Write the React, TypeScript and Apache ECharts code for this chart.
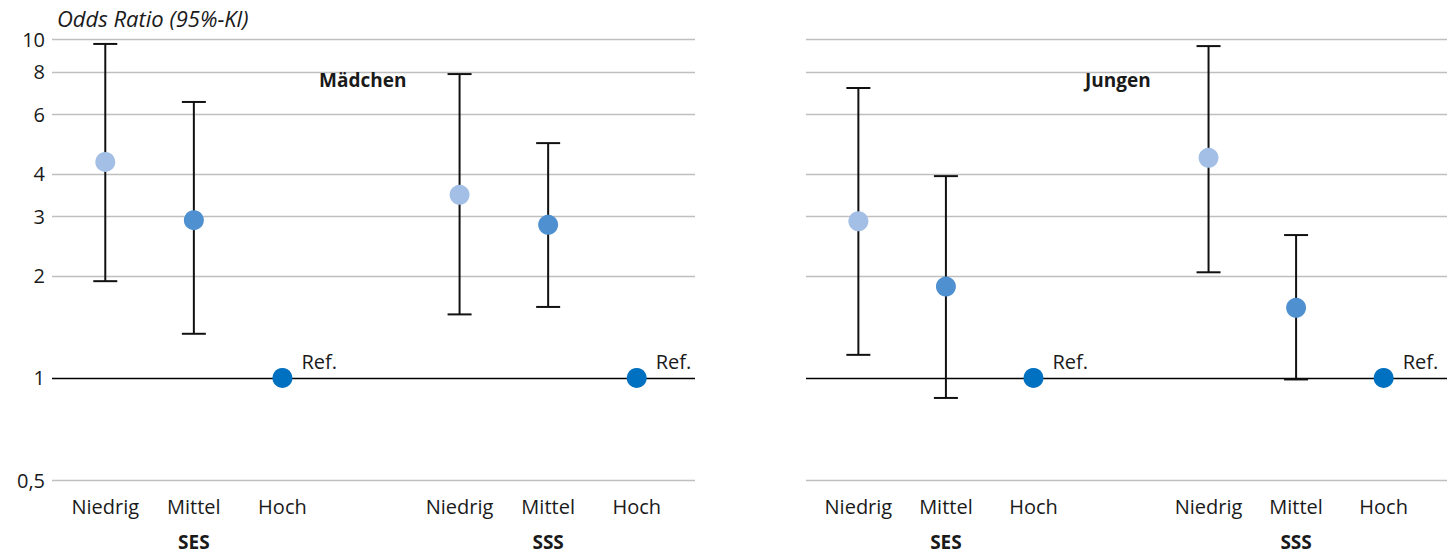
import React, { useEffect, useRef } from "react";
import * as echarts from "echarts";

const categories = ["Niedrig", "Mittel", "Hoch", "", "Niedrig", "Mittel", "Hoch"];
const groupLabels = ["", "SES", "", "", "", "SSS", ""];
const yTicks = [0.5, 1, 2, 3, 4, 6, 8, 10];
const levelColors = ["#a3bfe6", "#4f90d0", "#0070c0", "#000000", "#a3bfe6", "#4f90d0", "#0070c0"];
const refLabel = "Ref.";

const girlsOR = [4.34, 2.92, 1, null, 3.47, 2.83, 1];
const girlsLow = [1.93, 1.35, null, null, 1.54, 1.62, null];
const girlsHigh = [9.67, 6.52, null, null, 7.88, 4.93, null];

const boysOR = [2.9, 1.86, 1, null, 4.46, 1.61, 1];
const boysLow = [1.17, 0.873, null, null, 2.05, 0.99, null];
const boysHigh = [7.17, 3.94, null, null, 9.53, 2.64, null];

const FONT = "'Open Sans', sans-serif";
const TEXT = "#1a1a1a";
const FS = 20;
const FSB = 19;

function buildPanel(idx: number, or: (number | null)[], low: (number | null)[], high: (number | null)[]) {
  const barData: any[] = [];
  low.forEach((l, i) => {
    if (l != null && high[i] != null) barData.push([i, l, high[i]]);
  });
  const pointData: any[] = [];
  or.forEach((v, i) => {
    if (v == null) return;
    const isRef = low[i] == null;
    pointData.push({
      value: [i, v],
      itemStyle: { color: levelColors[i], opacity: 1 },
      label: {
        show: isRef,
        formatter: refLabel,
        position: "right",
        offset: [4, -16],
        fontFamily: FONT,
        fontSize: FS,
        color: TEXT,
        opacity: 1,
      },
    });
  });
  const xi = 2 + idx * 2;
  const yi = 2 + idx;
  return [
    {
      type: "custom",
      xAxisIndex: xi,
      yAxisIndex: yi,
      z: 2,
      data: barData,
      renderItem: (params: any, api: any) => {
        const x = api.value(0);
        const top = api.coord([x, api.value(2)]);
        const bot = api.coord([x, api.value(1)]);
        const hw = 12;
        const style = { stroke: "#111111", lineWidth: 2 };
        return {
          type: "group",
          children: [
            { type: "line", shape: { x1: top[0], y1: top[1], x2: bot[0], y2: bot[1] }, style },
            { type: "line", shape: { x1: top[0] - hw, y1: top[1], x2: top[0] + hw, y2: top[1] }, style },
            { type: "line", shape: { x1: bot[0] - hw, y1: bot[1], x2: bot[0] + hw, y2: bot[1] }, style },
          ],
        };
      },
    },
    {
      type: "scatter",
      xAxisIndex: xi,
      yAxisIndex: yi,
      z: 3,
      symbolSize: 20,
      itemStyle: { opacity: 1 },
      data: pointData,
    },
  ];
}

function yAxis(gridIndex: number, showLabels: boolean, showSplit: boolean) {
  return {
    type: "log",
    logBase: 10,
    gridIndex,
    min: 0.5,
    max: 10,
    axisLine: { show: false },
    axisTick: { show: false, customValues: yTicks },
    axisLabel: {
      show: showLabels,
      customValues: yTicks,
      fontFamily: FONT,
      fontSize: FS,
      color: TEXT,
      margin: 7,
      formatter: (v: number) => String(Number(v.toPrecision(3))).replace(".", ","),
    },
    splitLine: {
      show: showSplit,
      lineStyle: {
        color: yTicks.map((t) => (t === 1 ? "#000000" : "#bfbfbf")),
        width: 1.3,
      },
    },
  };
}

function bgXAxis(gridIndex: number) {
  return {
    type: "category",
    gridIndex,
    position: "bottom",
    data: categories,
    show: false,
  };
}

function xAxes(gridIndex: number) {
  return [
    {
      type: "category",
      gridIndex,
      position: "bottom",
      data: categories,
      axisLine: { show: false },
      axisTick: { show: false },
      axisLabel: { interval: 0, fontFamily: FONT, fontSize: FS, color: TEXT, margin: 16 },
    },
    {
      type: "category",
      gridIndex,
      position: "bottom",
      data: groupLabels,
      axisLine: { show: false },
      axisTick: { show: false },
      axisLabel: { interval: 0, fontFamily: FONT, fontSize: FSB, fontWeight: "bold", color: TEXT, margin: 52 },
    },
  ];
}

export default function App() {
  const ref = useRef<HTMLDivElement>(null);
  useEffect(() => {
    if (!ref.current) return;
    const chart = echarts.init(ref.current, null, { renderer: "svg" });
    const g = { top: 39, height: 441, outerBoundsMode: "none", containLabel: false };
    chart.setOption({
      animation: false,
      backgroundColor: "#ffffff",
      title: [
        {
          text: "Odds Ratio (95%-Kl)",
          left: 57,
          top: 7,
          padding: 0,
          textStyle: { fontFamily: FONT, fontSize: 22, fontStyle: "italic", fontWeight: "normal", color: TEXT },
        },
        {
          text: "Mädchen",
          left: 319,
          top: 70,
          padding: 0,
          textStyle: { fontFamily: FONT, fontSize: FSB, fontWeight: "bold", color: TEXT },
        },
        {
          text: "Jungen",
          left: 1085,
          top: 70,
          padding: 0,
          textStyle: { fontFamily: FONT, fontSize: FSB, fontWeight: "bold", color: TEXT },
        },
      ],
      grid: [
        { ...g, left: 52, width: 643 },
        { ...g, left: 806, width: 641 },
        { ...g, left: 61, width: 620 },
        { ...g, left: 814.6, width: 612.8 },
      ],
      xAxis: [bgXAxis(0), bgXAxis(1), ...xAxes(2), ...xAxes(3)],
      yAxis: [yAxis(0, true, true), yAxis(1, false, true), yAxis(2, false, false), yAxis(3, false, false)],
      series: [
        ...buildPanel(0, girlsOR, girlsLow, girlsHigh),
        ...buildPanel(1, boysOR, boysLow, boysHigh),
      ],
    });
    return () => chart.dispose();
  }, []);
  return (
    <div
      ref={ref}
      style={{ position: "fixed", left: 0, top: 0, width: 1452, height: 554 }}
    />
  );
}
